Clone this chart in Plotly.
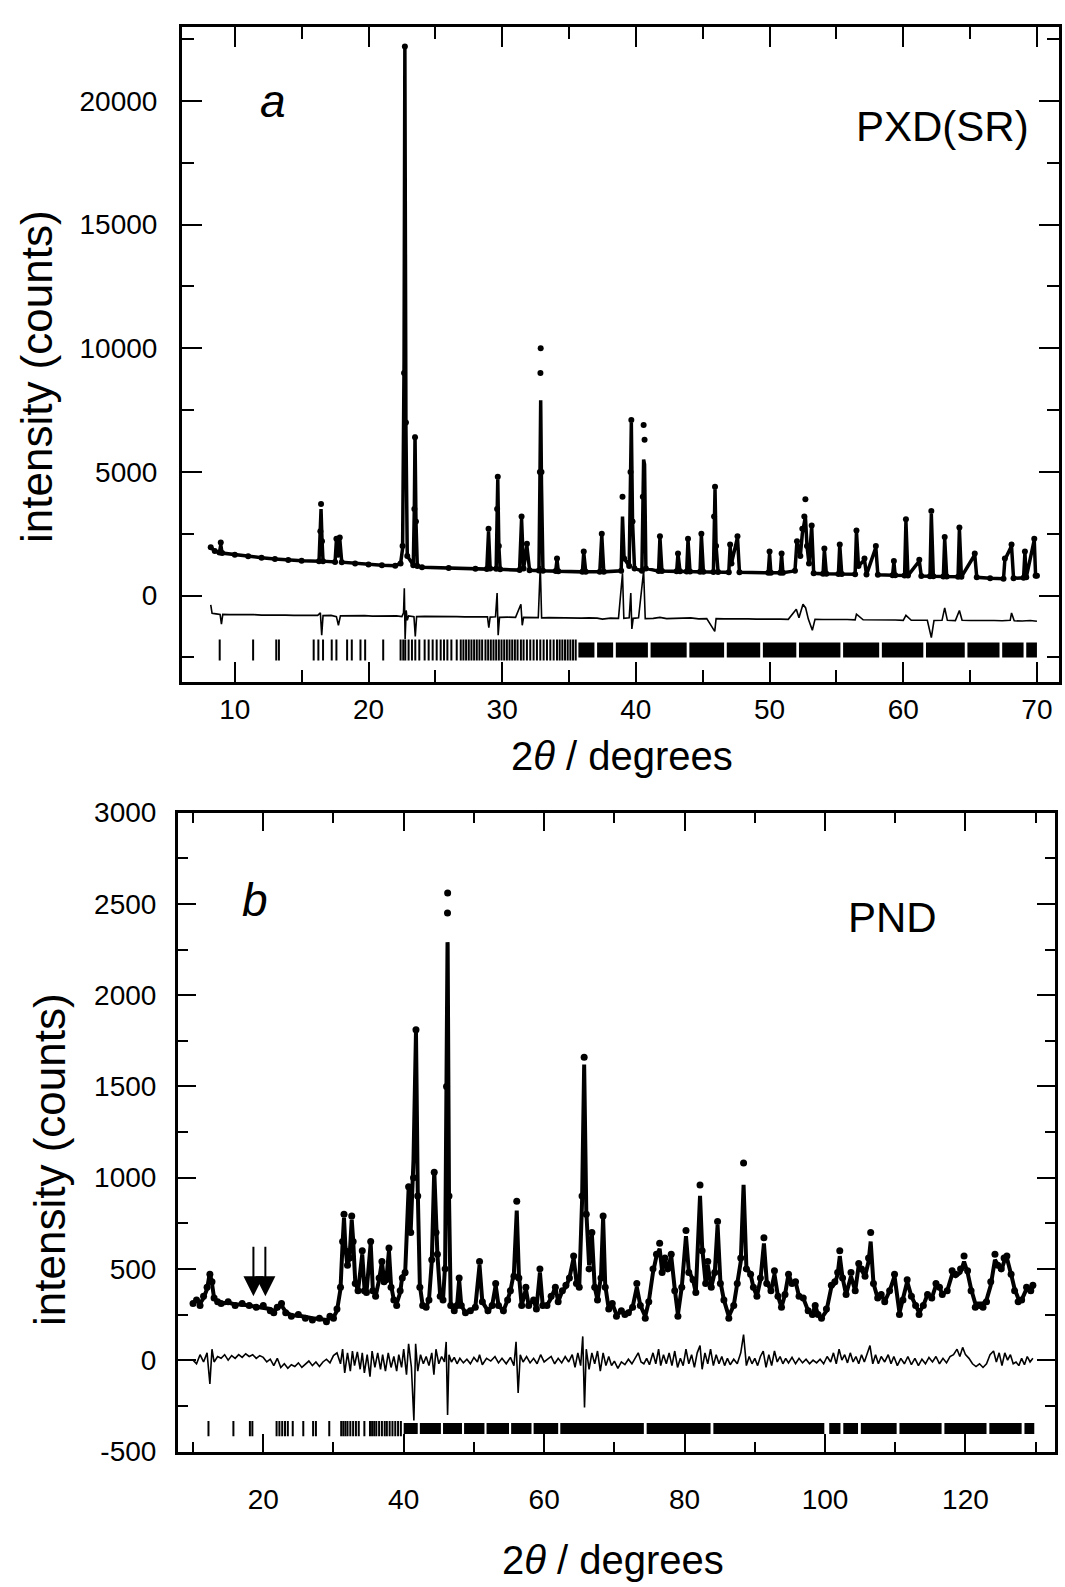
import plotly.graph_objects as go

# ---------------- Panel a : PXD(SR) ----------------
# (2theta, observed, calculated)
pattern_a = [
    (8.2, 1950, 1950), (8.5, 1800, 1800), (8.85, 1740, 1740), (8.95, 2150, 2050), (9.05, 1720, 1720),
    (10.0, 1650, 1650), (11.0, 1590, 1590), (12.0, 1530, 1530), (13.0, 1480, 1480), (14.0, 1440, 1440),
    (15.0, 1410, 1410), (16.3, 1390, 1390), (16.4, 2600, 2500), (16.45, 3700, 3500), (16.52, 2200, 2300),
    (16.6, 1390, 1390), (17.5, 1360, 1360), (17.6, 2300, 2250), (17.72, 1650, 1650), (17.85, 2350, 2300),
    (18.0, 1350, 1350), (19.0, 1300, 1300), (20.0, 1260, 1260), (21.0, 1230, 1230), (22.0, 1210, 1210),
    (22.4, 1300, 1300), (22.55, 2000, 1900), (22.66, 9000, 9500), (22.72, 22200, 22300), (22.8, 7000, 6800),
    (22.9, 1600, 1600), (23.35, 1230, 1230), (23.43, 3500, 3600), (23.48, 6400, 6500), (23.55, 3000, 3000),
    (23.65, 1200, 1200), (24.0, 1150, 1150), (26.0, 1120, 1120), (28.0, 1080, 1080), (28.85, 1070, 1070),
    (28.98, 2700, 2600), (29.1, 1100, 1100), (29.55, 1090, 1090), (29.62, 3500, 3600), (29.67, 4800, 4700),
    (29.75, 2000, 2000), (29.85, 1060, 1060), (31.3, 1030, 1030), (31.45, 3200, 3100), (31.6, 1100, 1100),
    (31.85, 2100, 2000), (32.05, 1020, 1020), (32.75, 1010, 1010), (32.82, 5000, 4500), (32.86, 9000, 7200),
    (32.88, 10000, 7900), (32.94, 5000, 4500), (33.05, 1000, 1000), (34.0, 990, 990), (34.1, 1500, 1450),
    (34.2, 980, 980), (36.0, 960, 960), (36.1, 1780, 1750), (36.25, 960, 960), (37.3, 960, 960),
    (37.45, 2500, 2450), (37.6, 960, 960), (38.9, 1000, 1000), (39.0, 4000, 3200), (39.12, 1500, 1500),
    (39.5, 1200, 1200), (39.6, 5000, 5100), (39.66, 7100, 7000), (39.75, 3000, 3000), (39.9, 1100, 1100),
    (40.45, 1000, 1000), (40.52, 4000, 3700), (40.58, 6900, 5500), (40.65, 6300, 5300), (40.75, 1100, 1100),
    (41.7, 990, 990), (41.8, 2400, 2350), (41.95, 990, 990), (43.05, 980, 980), (43.15, 1700, 1700),
    (43.3, 980, 980), (43.8, 970, 970), (43.9, 2300, 2250), (44.05, 970, 970), (44.8, 960, 960),
    (44.9, 2500, 2450), (45.05, 960, 960), (45.8, 950, 950), (45.85, 3200, 3000), (45.92, 4400, 4300),
    (46.0, 2000, 2000), (46.15, 950, 950), (46.95, 940, 940), (47.05, 2070, 2000), (47.15, 1300, 1300),
    (47.6, 2400, 2350), (47.75, 940, 940), (49.9, 920, 920), (50.0, 1780, 1700), (50.1, 920, 920),
    (50.8, 920, 920), (50.9, 1700, 1650), (51.0, 920, 920), (51.9, 1000, 1000), (52.05, 2200, 2200),
    (52.3, 1600, 1600), (52.45, 2700, 2500), (52.6, 3200, 3000), (52.68, 3900, 3200), (52.8, 2000, 2000),
    (52.95, 1300, 1300), (53.15, 2830, 2800), (53.3, 900, 900), (54.0, 880, 880), (54.1, 1900, 1850),
    (54.25, 880, 880), (55.15, 870, 870), (55.25, 2070, 2050), (55.4, 870, 870), (56.4, 860, 860),
    (56.5, 2630, 2600), (56.65, 1200, 1200), (57.1, 1500, 1450), (57.25, 850, 850), (57.95, 2000, 1950),
    (58.1, 840, 840), (59.2, 820, 820), (59.3, 1400, 1350), (59.4, 820, 820), (60.1, 810, 810),
    (60.2, 3090, 3000), (60.35, 810, 810), (61.2, 1450, 1400), (61.35, 790, 790), (62.0, 780, 780),
    (62.1, 3420, 3300), (62.25, 780, 780), (63.0, 770, 770), (63.1, 2370, 2300), (63.25, 770, 770),
    (64.1, 760, 760), (64.2, 2750, 2700), (64.35, 760, 760), (65.35, 1700, 1650), (65.5, 740, 740),
    (66.5, 700, 700), (67.5, 680, 680), (67.6, 1500, 1450), (68.1, 2070, 2000), (68.25, 700, 700),
    (69.0, 720, 720), (69.1, 1780, 1750), (69.2, 740, 740), (69.8, 2300, 2250), (69.9, 800, 800),
    (70.0, 800, 800),
]

# difference curve as plotted (offset below zero)
diff_a = [
    (8.2, -380), (8.3, -720), (8.6, -740), (8.9, -760), (9.0, -1150), (9.1, -760), (9.6, -770),
    (10.2, -760), (10.8, -780), (11.4, -770), (12.0, -790), (12.6, -780), (13.2, -800), (13.8, -790),
    (14.4, -800), (15.0, -790), (15.6, -810), (16.2, -800), (16.4, -700), (16.5, -1600), (16.6, -810),
    (17.2, -800), (17.6, -850), (17.75, -1200), (17.9, -820), (18.5, -810), (19.1, -820), (19.7, -810),
    (20.3, -830), (20.9, -820), (21.5, -830), (22.1, -820), (22.5, -850), (22.62, -700), (22.68, 300),
    (22.74, -1750), (22.82, -600), (22.9, -1000), (23.0, -820), (23.4, -850), (23.5, -1650), (23.6, -850),
    (24.2, -840), (24.8, -850), (25.4, -840), (26.0, -860), (26.6, -850), (27.2, -860), (27.8, -850),
    (28.4, -870), (28.9, -860), (29.0, -1300), (29.1, -870), (29.5, -860), (29.62, 100), (29.7, -1600),
    (29.8, -880), (30.4, -870), (31.0, -880), (31.4, -350), (31.5, -1200), (31.6, -880), (32.2, -880),
    (32.7, -890), (32.85, 1200), (32.95, -900), (33.5, -890), (34.1, -900), (34.7, -890), (35.3, -900),
    (35.9, -910), (36.5, -900), (37.1, -910), (37.5, -950), (38.1, -910), (38.7, -920), (39.0, 900),
    (39.1, -920), (39.5, -900), (39.62, 100), (39.7, -1350), (39.8, -920), (40.2, -900), (40.58, 1000),
    (40.7, -930), (41.3, -920), (41.8, -880), (42.3, -930), (42.9, -920), (43.5, -940), (44.1, -900),
    (44.7, -940), (45.3, -930), (45.9, -1450), (46.0, -930), (46.6, -940), (47.2, -930), (47.8, -950),
    (48.4, -940), (49.0, -950), (49.6, -940), (50.2, -960), (50.8, -950), (51.4, -960), (52.0, -550),
    (52.2, -900), (52.5, -350), (52.7, -500), (52.9, -950), (53.2, -1400), (53.4, -960), (54.0, -970),
    (54.6, -960), (55.2, -980), (55.8, -970), (56.4, -980), (56.5, -750), (57.0, -980), (57.6, -990),
    (58.2, -980), (58.8, -1000), (59.4, -990), (60.0, -1000), (60.2, -800), (60.6, -1000), (61.2, -1010),
    (61.8, -1000), (62.1, -1700), (62.3, -1010), (62.9, -1000), (63.1, -500), (63.3, -1000), (63.9, -1010),
    (64.2, -600), (64.4, -1000), (65.0, -1010), (65.6, -1000), (66.2, -1020), (66.8, -1010), (67.4, -1020),
    (68.0, -1000), (68.1, -700), (68.3, -1020), (68.9, -1030), (69.5, -1010), (70.0, -1040),
]

refl_a = [8.87, 11.37, 13.1, 13.3, 15.9, 16.25, 16.6, 17.25, 17.6, 18.4, 18.75, 19.4, 19.75, 21.1,
          22.4, 22.6, 22.75, 23.0, 23.25, 23.5, 23.8, 24.2, 24.5, 24.8, 25.1, 25.4, 25.65, 25.9, 26.2,
          26.6, 26.9, 27.1, 27.3, 27.5, 27.7, 27.9, 28.1, 28.3, 28.5, 28.75, 28.95, 29.15, 29.35, 29.55,
          29.75, 29.95, 30.15, 30.35, 30.55, 30.75, 30.95, 31.15, 31.4, 31.6, 31.85, 32.1, 32.35, 32.6,
          32.85, 33.1, 33.35, 33.6, 33.85, 34.1, 34.3, 34.5, 34.7, 34.9, 35.1, 35.3, 35.5]
refl_a_bands = [(35.7, 36.9), (37.1, 38.3), (38.5, 40.9), (41.1, 43.8), (44.0, 46.6), (46.8, 49.3),
                (49.5, 52.0), (52.2, 55.3), (55.5, 58.2), (58.4, 61.5), (61.7, 64.6), (64.8, 67.2),
                (67.4, 69.0), (69.2, 70.0)]
refl_a_level = -2200

# ---------------- Panel b : PND ----------------
pattern_b = [
    (10.0, 310, 310), (10.5, 330, 330), (11.0, 300, 310), (11.5, 350, 340), (12.0, 400, 390),
    (12.4, 470, 480), (12.7, 430, 420), (13.0, 340, 340), (13.5, 320, 320), (14.0, 310, 310),
    (15.0, 320, 315), (16.0, 300, 305), (17.0, 310, 305), (18.0, 300, 300), (19.0, 290, 295),
    (20.0, 300, 290), (21.0, 270, 280), (21.5, 260, 270), (22.0, 290, 285), (22.6, 310, 300),
    (23.2, 260, 265), (24.0, 240, 245), (25.0, 250, 245), (26.0, 230, 235), (27.0, 220, 230),
    (28.0, 230, 225), (29.0, 210, 220), (29.5, 240, 230), (30.0, 230, 235), (30.5, 280, 270),
    (31.0, 400, 390), (31.3, 650, 640), (31.5, 800, 780), (31.7, 600, 620), (32.0, 520, 510),
    (32.3, 560, 570), (32.6, 790, 770), (32.8, 650, 660), (33.1, 420, 430), (33.5, 380, 380),
    (34.1, 600, 580), (34.4, 380, 400), (34.7, 370, 370), (35.3, 650, 640), (35.6, 380, 390),
    (36.0, 350, 350), (36.5, 450, 440), (36.9, 540, 540), (37.2, 430, 440), (37.5, 440, 430),
    (37.9, 614, 600), (38.2, 400, 410), (38.6, 330, 330), (39.0, 300, 310), (39.5, 380, 370),
    (39.8, 450, 460), (40.2, 480, 470), (40.7, 950, 940), (41.0, 700, 710), (41.4, 1000, 1100),
    (41.75, 1810, 1800), (42.0, 900, 930), (42.3, 400, 410), (42.7, 300, 300), (43.2, 290, 290),
    (43.6, 330, 330), (44.0, 550, 540), (44.35, 1030, 1040), (44.6, 700, 690), (44.8, 580, 580),
    (45.2, 350, 350), (45.6, 330, 330), (45.9, 500, 520), (46.1, 1500, 1450), (46.24, 2450, 2290),
    (46.26, 2560, 2280), (46.45, 900, 900), (46.7, 300, 300), (47.2, 270, 270), (47.6, 300, 300),
    (47.9, 450, 440), (48.2, 300, 300), (48.8, 260, 260), (49.5, 270, 270), (50.2, 290, 290),
    (50.8, 540, 520), (51.2, 320, 320), (52.0, 270, 270), (52.6, 300, 300), (53.1, 420, 410),
    (53.5, 300, 300), (54.2, 270, 270), (54.8, 330, 330), (55.2, 380, 380), (55.7, 460, 480),
    (56.1, 870, 820), (56.4, 450, 470), (56.8, 300, 300), (57.4, 400, 390), (57.8, 300, 300),
    (58.5, 330, 330), (58.9, 280, 280), (59.4, 500, 480), (59.8, 300, 300), (60.4, 300, 300),
    (61.0, 350, 340), (61.6, 400, 400), (62.0, 320, 320), (62.6, 380, 380), (63.1, 410, 400),
    (63.6, 450, 450), (64.2, 570, 560), (64.6, 420, 430), (65.0, 400, 400), (65.4, 900, 870),
    (65.7, 1660, 1620), (66.0, 800, 820), (66.4, 500, 520), (66.8, 700, 690), (67.2, 400, 400),
    (67.6, 330, 330), (68.1, 450, 460), (68.4, 790, 780), (68.7, 400, 410), (69.2, 280, 280),
    (69.7, 310, 310), (70.3, 240, 250), (71.0, 270, 265), (71.5, 250, 255), (72.0, 260, 260),
    (72.6, 290, 290), (73.2, 420, 400), (73.7, 300, 300), (74.4, 230, 240), (74.9, 320, 320),
    (75.5, 500, 480), (76.0, 580, 570), (76.45, 640, 610), (76.8, 480, 490), (77.2, 560, 550),
    (77.6, 500, 500), (78.1, 580, 570), (78.6, 380, 390), (79.05, 240, 250), (79.6, 400, 400),
    (80.2, 710, 680), (80.6, 480, 490), (81.2, 440, 440), (81.6, 370, 370), (82.2, 960, 900),
    (82.5, 600, 620), (83.0, 420, 420), (83.3, 540, 520), (83.8, 400, 400), (84.3, 480, 480),
    (84.7, 760, 740), (85.1, 420, 430), (85.6, 330, 330), (86.3, 230, 240), (87.0, 300, 300),
    (87.5, 420, 420), (88.0, 560, 540), (88.4, 1080, 960), (88.8, 500, 510), (89.4, 470, 470),
    (89.8, 400, 400), (90.3, 350, 350), (90.8, 450, 440), (91.3, 670, 640), (91.7, 420, 430),
    (92.3, 380, 380), (92.8, 490, 470), (93.3, 350, 350), (93.8, 290, 290), (94.3, 360, 360),
    (94.8, 470, 470), (95.3, 420, 420), (95.8, 430, 430), (96.3, 350, 350), (96.9, 340, 340),
    (97.6, 270, 270), (98.2, 250, 250), (98.6, 300, 300), (99.0, 250, 250), (99.5, 230, 230),
    (100.2, 280, 270), (100.9, 410, 400), (101.4, 430, 420), (101.8, 480, 470), (102.1, 600, 570),
    (102.5, 450, 450), (103.0, 360, 360), (103.7, 480, 460), (104.3, 380, 380), (104.8, 530, 520),
    (105.2, 500, 490), (105.7, 460, 460), (106.2, 560, 540), (106.5, 700, 650), (106.9, 420, 420),
    (107.5, 340, 340), (108.0, 360, 360), (108.5, 320, 320), (109.2, 380, 380), (109.9, 470, 460),
    (110.6, 250, 260), (111.1, 330, 330), (111.7, 440, 430), (112.3, 350, 350), (112.9, 300, 300),
    (113.4, 250, 260), (114.0, 300, 300), (114.6, 360, 360), (115.2, 340, 340), (115.8, 420, 410),
    (116.3, 400, 400), (116.7, 360, 360), (117.4, 380, 380), (118.1, 490, 470), (118.6, 470, 460),
    (119.3, 500, 480), (119.8, 570, 540), (120.3, 490, 480), (120.8, 380, 390), (121.4, 290, 310),
    (122.0, 300, 310), (122.5, 290, 310), (123.0, 320, 330), (123.6, 430, 410), (124.2, 580, 550),
    (124.6, 520, 520), (125.1, 500, 490), (125.5, 560, 540), (125.9, 570, 560), (126.5, 470, 470),
    (127.0, 380, 390), (127.5, 320, 340), (128.0, 330, 330), (128.7, 400, 390), (129.3, 380, 380),
    (129.6, 410, 400),
]

diff_b = [
    (10.0, 0), (10.5, -20), (11.0, 30), (11.5, -10), (12.0, 40), (12.4, -130), (12.7, 60), (13.0, -10),
    (13.5, 20), (14.0, 10), (14.5, 30), (15.0, 0), (15.5, 25), (16.0, 10), (16.5, 30), (17.0, 15),
    (17.5, 35), (18.0, 20), (18.5, 30), (19.0, 10), (19.5, 25), (20.0, 15), (20.5, -10), (21.0, 5),
    (21.5, -30), (22.0, 10), (22.5, -40), (23.0, -20), (23.5, -45), (24.0, -25), (24.5, -35), (25.0, -15),
    (25.5, -40), (26.0, -20), (26.5, -5), (27.0, -30), (27.5, -10), (28.0, -35), (28.5, -10), (29.0, 5),
    (29.5, -15), (30.0, 25), (30.5, 40), (31.0, -20), (31.3, 60), (31.6, -70), (32.0, 40), (32.4, -60),
    (32.7, 50), (33.0, -30), (33.4, 45), (33.8, -50), (34.1, 40), (34.4, -70), (34.8, 30), (35.2, -90),
    (35.5, 50), (35.9, -40), (36.3, 40), (36.7, -50), (37.0, 30), (37.4, -60), (37.8, 40), (38.2, -40),
    (38.6, 20), (39.0, -60), (39.3, 30), (39.7, -40), (40.0, 60), (40.4, -80), (40.7, 90), (41.1, -40),
    (41.45, -330), (41.7, 90), (42.0, -60), (42.4, 30), (42.8, -20), (43.2, 20), (43.6, -30), (44.0, 40),
    (44.3, -80), (44.6, 60), (45.0, -20), (45.4, 20), (45.8, -10), (46.05, 100), (46.25, -300), (46.45, 30),
    (46.8, -10), (47.2, 15), (47.6, -20), (48.0, 10), (48.5, -15), (49.0, 5), (49.5, -20), (50.0, 15),
    (50.5, -10), (50.8, 30), (51.2, -25), (51.8, 10), (52.4, -5), (53.0, 20), (53.5, -15), (54.0, 10),
    (54.6, -20), (55.2, 15), (55.7, -30), (56.0, 100), (56.3, -180), (56.6, 30), (57.0, -10), (57.5, 20),
    (58.0, -15), (58.5, 10), (59.0, -20), (59.5, 30), (60.0, -10), (60.5, 5), (61.0, 20), (61.5, -20),
    (62.0, 10), (62.5, -15), (63.0, 20), (63.5, -10), (64.0, 30), (64.4, -40), (64.8, 40), (65.2, -30),
    (65.5, 130), (65.75, -260), (66.0, 60), (66.4, -50), (66.8, 40), (67.2, -20), (67.6, 50), (68.0, -60),
    (68.4, 40), (68.8, -30), (69.2, 20), (69.6, -30), (70.0, -5), (70.5, -45), (71.0, -10), (71.5, -25),
    (72.0, 5), (72.5, -20), (73.0, 10), (73.4, 40), (73.8, -10), (74.2, -20), (74.6, 10), (75.0, -25),
    (75.5, 40), (75.9, -20), (76.3, 60), (76.6, -30), (77.0, 30), (77.4, -20), (77.8, 40), (78.2, -30),
    (78.6, 50), (79.0, -40), (79.4, 10), (79.8, -30), (80.2, 60), (80.6, -20), (81.0, 30), (81.4, -40),
    (81.8, 40), (82.2, 80), (82.5, -50), (82.9, 40), (83.3, -20), (83.7, 60), (84.1, -30), (84.5, 30),
    (84.9, -20), (85.3, 20), (85.7, -30), (86.1, 10), (86.5, -25), (87.0, 5), (87.5, -20), (88.0, 40),
    (88.4, 140), (88.8, -30), (89.2, 20), (89.6, -20), (90.0, 10), (90.4, -30), (90.8, 20), (91.2, 50),
    (91.6, -40), (92.0, 30), (92.4, -30), (92.8, 50), (93.2, -10), (93.6, 20), (94.0, -20), (94.4, 10),
    (94.8, -15), (95.3, 15), (95.8, -20), (96.3, 10), (96.8, -15), (97.3, 5), (97.8, -20), (98.3, 0),
    (98.8, -15), (99.3, 5), (99.8, -20), (100.3, 20), (100.8, -10), (101.2, 40), (101.6, -20), (102.0, 60),
    (102.4, 0), (102.8, 30), (103.2, -15), (103.6, 40), (104.0, -10), (104.4, 20), (104.8, -20), (105.2, 30),
    (105.6, -10), (106.0, 40), (106.4, 80), (106.8, -20), (107.2, 30), (107.6, -20), (108.0, 20), (108.5, -10),
    (109.0, 30), (109.4, -20), (109.8, 20), (110.3, -30), (110.8, 10), (111.3, -20), (111.8, 20), (112.3, -25),
    (112.8, 10), (113.3, -30), (113.8, 5), (114.3, -20), (114.8, 15), (115.3, -10), (115.8, 20), (116.3, -20),
    (116.8, 10), (117.3, -15), (117.8, 20), (118.3, 30), (118.8, 60), (119.2, 20), (119.6, 70), (120.0, 30),
    (120.5, 10), (121.0, -20), (121.5, -35), (122.0, -20), (122.5, -40), (123.0, -20), (123.5, 30), (124.0, 50),
    (124.4, -10), (124.8, 40), (125.2, -30), (125.6, 40), (126.0, 0), (126.4, 30), (126.8, -20), (127.2, -10),
    (127.6, -30), (128.0, 10), (128.4, -25), (128.8, 20), (129.2, -10), (129.6, 10),
]

refl_b = [12.2, 15.75, 18.1, 18.45, 21.9, 22.3, 22.7, 23.1, 23.5, 24.2, 25.7, 27.1, 27.5, 29.4,
          31.1, 31.4, 31.7, 32.0, 32.4, 32.8, 33.2, 33.6, 34.4, 35.2, 35.5, 35.8, 36.1, 36.5, 36.9,
          37.3, 37.6, 38.0, 38.4, 38.8, 39.2, 39.6]
refl_b_bands = [(40.0, 42.0), (42.3, 45.3), (45.6, 48.3), (48.6, 51.5), (51.8, 55.0), (55.3, 58.2),
                (58.5, 62.0), (62.3, 74.2), (74.6, 83.7), (84.1, 99.9), (100.6, 102.2), (102.6, 104.7),
                (105.1, 110.2), (110.6, 116.6), (117.0, 123.0), (123.4, 128.0), (128.4, 129.8)]
refl_b_level = -375

arrows_b = [18.6, 20.3]        # positions of the two arrows
arrow_tip_b, arrow_tail_b = 350, 630

# ---------------- helpers ----------------
W, H = 1065, 1587
FONT = "Liberation Sans, Arial, Helvetica, sans-serif"


def px_x(p):
    return p / W


def px_y(p):
    return 1 - p / H


def unzip(rows):
    return [list(c) for c in zip(*rows)]


def band_xy(bands, level):
    xs, ys = [], []
    for s, e in bands:
        xs += [s, e, None]
        ys += [level, level, None]
    return xs, ys


fig = go.Figure()


def add_panel(pattern, diff, refl, bands, level, xa, ya, tick_h, band_w, calc_w, mk):
    tth, iobs, icalc = unzip(pattern)
    dx, dy = unzip(diff)
    fig.add_trace(go.Scatter(x=tth, y=icalc, mode="lines", line=dict(color="black", width=calc_w),
                             xaxis=xa, yaxis=ya, showlegend=False, hoverinfo="skip"))
    fig.add_trace(go.Scatter(x=tth, y=iobs, mode="markers", marker=dict(color="black", size=mk),
                             xaxis=xa, yaxis=ya, showlegend=False, hoverinfo="skip"))
    fig.add_trace(go.Scatter(x=dx, y=dy, mode="lines", line=dict(color="black", width=1.6),
                             xaxis=xa, yaxis=ya, showlegend=False, hoverinfo="skip"))
    fig.add_trace(go.Scatter(x=refl, y=[level] * len(refl), mode="markers",
                             marker=dict(symbol="line-ns-open", size=tick_h, color="black",
                                         line=dict(color="black", width=2)),
                             xaxis=xa, yaxis=ya, showlegend=False, hoverinfo="skip"))
    bx, by = band_xy(bands, level)
    fig.add_trace(go.Scatter(x=bx, y=by, mode="lines", line=dict(color="black", width=band_w),
                             xaxis=xa, yaxis=ya, showlegend=False, hoverinfo="skip"))


add_panel(pattern_a, diff_a, refl_a, refl_a_bands, refl_a_level, "x", "y", 15, 15, 3.5, 6)
add_panel(pattern_b, diff_b, refl_b, refl_b_bands, refl_b_level, "x2", "y2", 11, 11, 4, 7)

axis_common = dict(showline=True, linewidth=3, linecolor="black", mirror="ticks", ticks="inside",
                   tickwidth=2, tickcolor="black", showgrid=False, zeroline=False,
                   tickfont=dict(family=FONT, size=28, color="black"))

fig.update_layout(
    width=W, height=H, margin=dict(l=0, r=0, t=0, b=0),
    paper_bgcolor="white", plot_bgcolor="white",
    xaxis=dict(axis_common, domain=[px_x(182), px_x(1059)], range=[6.05, 71.65],
               tickvals=[10, 20, 30, 40, 50, 60, 70], ticklen=20, anchor="y",
               minor=dict(ticks="inside", ticklen=12, tickwidth=2, tickcolor="black", dtick=5, tick0=0),
               ticklabelstandoff=0),
    yaxis=dict(axis_common, domain=[px_y(680), px_y(12)], range=[-3500, 23000],
               tickvals=[0, 5000, 10000, 15000, 20000],
               ticktext=["0", "5000", "10000", "15000", "20000"], ticklen=20, anchor="x",
               minor=dict(ticks="inside", ticklen=12, tickwidth=2, tickcolor="black", dtick=2500, tick0=0),
               ticklabelstandoff=16),
    xaxis2=dict(axis_common, domain=[px_x(178), px_x(1055)], range=[7.86, 132.75],
                tickvals=[20, 40, 60, 80, 100, 120], ticklen=18, anchor="y2",
                minor=dict(ticks="inside", ticklen=10, tickwidth=2, tickcolor="black", dtick=10, tick0=0),
                ticklabelstandoff=20),
    yaxis2=dict(axis_common, domain=[px_y(1465), px_y(813)], range=[-505, 3000],
                tickvals=[-500, 0, 500, 1000, 1500, 2000, 2500, 3000],
                ticktext=["-500", "0", "500", "1000", "1500", "2000", "2500", "3000"], ticklen=18,
                anchor="x2",
                minor=dict(ticks="inside", ticklen=10, tickwidth=2, tickcolor="black", dtick=250, tick0=0),
                ticklabelstandoff=13),
)

ann_font = dict(family=FONT, color="black")
annotations = [
    dict(text="intensity (counts)", x=px_x(36), y=px_y(369), textangle=-90, font=dict(ann_font, size=44)),
    dict(text="intensity (counts)", x=px_x(50), y=px_y(1167), textangle=-90, font=dict(ann_font, size=44)),
    dict(text="2<i>θ</i> / degrees", x=px_x(622), y=px_y(755), font=dict(ann_font, size=40)),
    dict(text="2<i>θ</i> / degrees", x=px_x(613), y=px_y(1575), font=dict(ann_font, size=40)),
    dict(text="<i>a</i>", x=px_x(273), y=px_y(88), font=dict(ann_font, size=46)),
    dict(text="PXD(SR)", x=px_x(942), y=px_y(114), font=dict(ann_font, size=42)),
    dict(text="<i>b</i>", x=px_x(255), y=px_y(902), font=dict(ann_font, size=46)),
    dict(text="PND", x=px_x(892), y=px_y(920), font=dict(ann_font, size=42)),
]
for a in annotations:
    a.update(xref="paper", yref="paper", showarrow=False, xanchor="center", yanchor="middle")
for xp in arrows_b:
    annotations.append(dict(x=xp, y=arrow_tip_b, ax=xp, ay=arrow_tail_b, xref="x2", yref="y2",
                            axref="x2", ayref="y2", showarrow=True, arrowhead=2, arrowsize=2,
                            arrowwidth=2, arrowcolor="black", text=""))
fig.update_layout(annotations=annotations)

fig.write_html("out.html", config={"displayModeBar": False},
               post_script="document.body.style.margin='0';document.body.style.overflow='hidden';")
